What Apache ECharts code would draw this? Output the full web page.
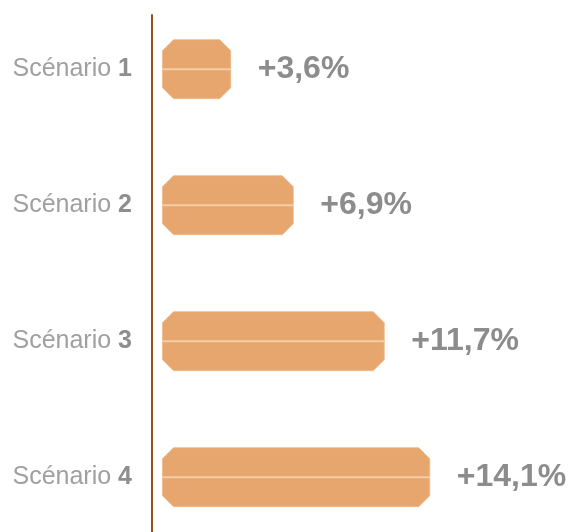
<!DOCTYPE html>
<html>
<head>
<meta charset="utf-8">
<style>
  html, body { margin: 0; padding: 0; background: #ffffff; }
  #chart { width: 570px; height: 532px; }
</style>
<script src="https://cdn.jsdelivr.net/npm/echarts@6/dist/echarts.min.js"></script>
</head>
<body>
<div id="chart"></div>
<script>
// ---- data ----
const scenarioNames = ['Scénario', 'Scénario', 'Scénario', 'Scénario'];
const scenarioNumbers = ['1', '2', '3', '4'];
const growthValues = [3.6, 6.9, 11.7, 14.1];

const categories = scenarioNumbers.map((n, i) => scenarioNames[i] + ' ' + n);

const FONT = '"Liberation Sans", Helvetica, Arial, sans-serif';
const BAR_COLOR = '#E8A66F';
const LINE_COLOR = '#F6CDA6';
const BAR_H = 59;
const CUT = 11;

function fmt(v) {
  return '+' + v.toFixed(1).replace('.', ',') + '%';
}

const chart = echarts.init(document.getElementById('chart'), null, { renderer: 'canvas' });

chart.setOption({
  animation: false,
  backgroundColor: '#ffffff',
  grid: [
    { left: 152, right: 0, top: 15, bottom: 0, outerBoundsMode: 'none', containLabel: false },
    { left: 153, right: 0, top: 1.2, bottom: -13.2, outerBoundsMode: 'none', containLabel: false }
  ],
  xAxis: [
    { gridIndex: 0, type: 'value', show: false, min: 0, max: 1 },
    { gridIndex: 1, type: 'value', show: false, min: -0.5, max: 21.5 }
  ],
  yAxis: [
    {
      gridIndex: 0, type: 'value', min: 0, max: 1,
      axisLine: { show: true, lineStyle: { color: '#8B552A', width: 2 } },
      axisTick: { show: false }, axisLabel: { show: false }, splitLine: { show: false }
    },
    {
      gridIndex: 1, type: 'category', inverse: true, data: categories,
      axisLine: { show: false }, axisTick: { show: false }, splitLine: { show: false },
      axisLabel: {
        margin: 21,
        formatter: function (v, i) {
          return '{a|' + scenarioNames[i] + ' }{b|' + scenarioNumbers[i] + '}';
        },
        rich: {
          a: { fontFamily: FONT, fontSize: 25, color: '#A0A0A0' },
          b: { fontFamily: FONT, fontSize: 25, fontWeight: 'bold', color: '#8E8E8E' }
        }
      }
    }
  ],
  series: [
    {
      type: 'custom',
      xAxisIndex: 1,
      yAxisIndex: 1,
      data: growthValues.map((v, i) => [v, i]),
      renderItem: function (params, api) {
        const v = api.value(0);
        const idx = api.value(1);
        const p0 = api.coord([0, idx]);
        const p1 = api.coord([v, idx]);
        const x0 = p0[0], x1 = p1[0], cy = p0[1];
        const t = cy - BAR_H / 2, b = cy + BAR_H / 2;
        return {
          type: 'group',
          children: [
            {
              type: 'polygon',
              shape: {
                points: [
                  [x0 + CUT, t], [x1 - CUT, t], [x1, t + CUT], [x1, b - CUT],
                  [x1 - CUT, b], [x0 + CUT, b], [x0, b - CUT], [x0, t + CUT]
                ]
              },
              style: { fill: BAR_COLOR, stroke: '#EDB88A', lineWidth: 0.8 }
            },
            {
              type: 'line',
              shape: { x1: x0, y1: cy, x2: x1, y2: cy },
              style: { stroke: LINE_COLOR, lineWidth: 2 }
            },
            {
              type: 'text',
              x: x1 + 27,
              y: cy,
              style: {
                text: fmt(v),
                fill: '#8C8C8C',
                font: 'bold 32px ' + FONT,
                textAlign: 'left',
                textVerticalAlign: 'middle'
              }
            }
          ]
        };
      }
    }
  ]
});
</script>
</body>
</html>
